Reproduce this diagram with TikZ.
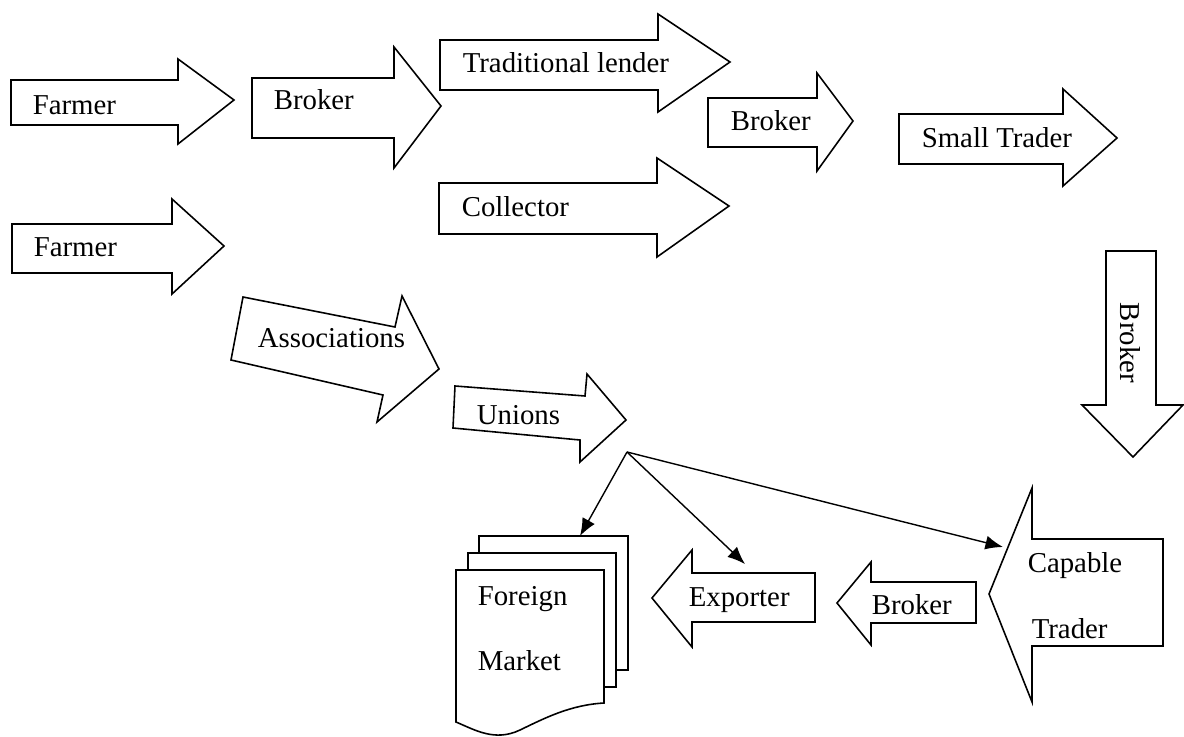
\documentclass[tikz,border=0pt]{standalone}
\usepackage{fontspec}
\setmainfont{Liberation Serif}
\usetikzlibrary{arrows.meta}

\begin{document}
\begin{tikzpicture}[x=0.02cm,y=-0.02cm,line width=0.9pt,
  blk/.style={draw,fill=white,line join=miter},
  lab/.style={anchor=base west,inner sep=0pt,font=\fontsize{16.4}{19}\selectfont},
  link/.style={-{Latex[length=10pt,width=8pt]},line width=0.8pt}]
\useasboundingbox (0,0) rectangle (1184,737);
% first row
\draw[blk] (11,80)--(178,80)--(178,59)--(234,100)--(178,144)--(178,125)--(11,125)--cycle;
\node[lab] (farmer1) at (32,114) {Farmer};
\draw[blk] (252,78)--(394,78)--(394,47)--(441,106)--(394,168)--(394,138)--(252,138)--cycle;
\node[lab] (broker1) at (273,109) {Broker};
\draw[blk] (440,40)--(658,40)--(658,14)--(730,62)--(658,112)--(658,90)--(440,90)--cycle;
\node[lab] (lender) at (462,72) {Traditional lender};
\draw[blk] (439,183)--(657,183)--(657,158)--(729,206)--(657,257)--(657,234)--(439,234)--cycle;
\node[lab] (collector) at (461,216) {Collector};
\draw[blk] (708,98)--(817,98)--(817,73)--(853,121)--(817,171)--(817,147)--(708,147)--cycle;
\node[lab] (broker2) at (730,130) {Broker};
\draw[blk] (899,114)--(1063,114)--(1063,89)--(1117,138)--(1063,186)--(1063,164)--(899,164)--cycle;
\node[lab] (smalltr) at (921,147) {Small Trader};
\draw[blk] (1106,251)--(1156,251)--(1156,405)--(1183,405)--(1133,457)--(1082,405)--(1106,405)--cycle;
\node[lab,anchor=center,rotate=-90] (broker3) at (1130,343) {Broker};
% second row
\draw[blk] (12,224)--(172,224)--(172,199)--(224,246)--(172,294)--(172,273)--(12,273)--cycle;
\node[lab] (farmer2) at (33,256) {Farmer};
\draw[blk] (243,297)--(395,327)--(402,296)--(439,369)--(377,422)--(383,395)--(231,360)--cycle;
\node[lab] (assoc) at (257,347) {Associations};
\draw[blk] (455,386)--(585,396)--(587,374)--(626,420)--(580,462)--(580,440)--(453,428)--cycle;
\node[lab] (unions) at (476,424) {Unions};
% bottom row
\draw[blk] (1163,539)--(1032,539)--(1032,488)--(989,594)--(1032,702)--(1032,646)--(1163,646)--cycle;
\node[lab] (capable) at (1027,572) {Capable};
\node[lab] (trader) at (1031,638) {Trader};
\draw[blk] (976,582)--(871,582)--(871,562)--(837,603)--(871,645)--(871,623)--(976,623)--cycle;
\node[lab] (broker4) at (871,614) {Broker};
\draw[blk] (815,573)--(692,573)--(692,550)--(652,598)--(692,647)--(692,622)--(815,622)--cycle;
\node[lab] (exporter) at (688,606) {Exporter};
% foreign market sheets
\draw[blk] (479,536) rectangle (628,670);
\draw[blk] (468,553) rectangle (616,687);
\draw[blk] (456,570)--(604,570)--(604,703) .. controls (570,705) and (545,718) .. (520,730)
  .. controls (495,742) and (475,730) .. (456,722)--cycle;
\node[lab] (foreign) at (477,605) {Foreign};
\node[lab] (market) at (477,670) {Market};
% links from unions
\coordinate (hub) at (627,452);
\coordinate (fmtop) at (580,536);
\coordinate (exptop) at (745,564);
\coordinate (captip) at (1003,547);
\draw[link] (hub) -- (fmtop);
\draw[link] (hub) -- (exptop);
\draw[link] (hub) -- (captip);
\end{tikzpicture}
\end{document}
